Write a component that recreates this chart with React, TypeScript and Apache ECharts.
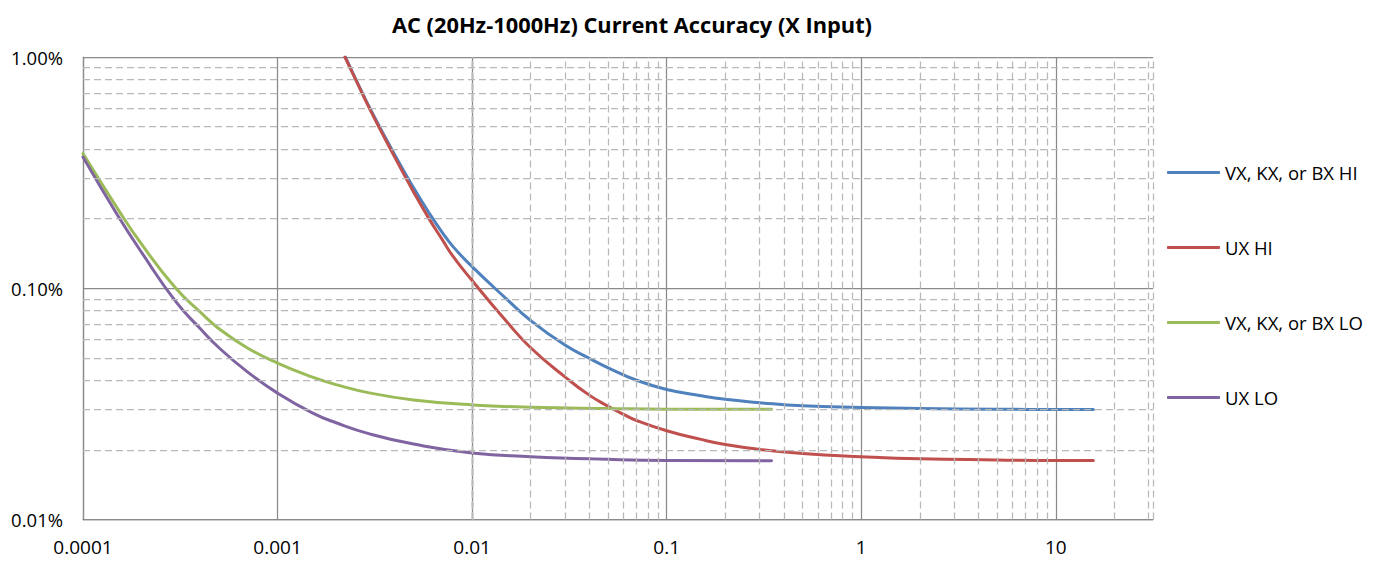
import React, { useEffect, useRef } from "react";
import * as echarts from "echarts";

// ---------- data ----------
const chartTitle = "AC (20Hz-1000Hz) Current Accuracy (X Input)";
const seriesNames = ["VX, KX, or BX HI", "UX HI", "VX, KX, or BX LO", "UX LO"];
const seriesColors = ["#4F81BD", "#C0504D", "#9BBB59", "#8064A2"];

// values in percent
const blueX = [0.00223, 0.0025, 0.003, 0.004, 0.005, 0.006, 0.007, 0.008, 0.01, 0.015, 0.02, 0.03, 0.04, 0.05, 0.07, 0.1, 0.15, 0.2, 0.3, 0.5, 1, 2, 5, 10, 15.6];
const blueY = [1.0, 0.815, 0.595, 0.378, 0.272, 0.212, 0.175, 0.151, 0.124, 0.09, 0.0725, 0.0568, 0.0498, 0.0453, 0.04, 0.0365, 0.0343, 0.0331, 0.032, 0.031, 0.0305, 0.0302, 0.03, 0.0299, 0.0299];

const redX = [0.00222, 0.0025, 0.003, 0.004, 0.005, 0.006, 0.007, 0.008, 0.01, 0.015, 0.02, 0.03, 0.04, 0.05, 0.06, 0.07, 0.1, 0.15, 0.2, 0.3, 0.5, 1, 2, 5, 10, 15.6];
const redY = [1.0, 0.81, 0.588, 0.369, 0.261, 0.2, 0.163, 0.137, 0.108, 0.072, 0.0553, 0.0414, 0.0345, 0.0309, 0.0285, 0.0268, 0.0242, 0.0222, 0.0211, 0.0201, 0.0193, 0.0187, 0.0183, 0.0181, 0.018, 0.018];

const greenX = [0.0001, 0.00015, 0.0002, 0.0003, 0.0004, 0.0005, 0.0007, 0.001, 0.0015, 0.002, 0.003, 0.005, 0.01, 0.02, 0.05, 0.1, 0.346];
const greenY = [0.382, 0.222, 0.155, 0.1, 0.079, 0.0668, 0.0552, 0.0475, 0.0414, 0.0383, 0.0352, 0.0329, 0.0313, 0.0306, 0.0302, 0.03, 0.03];

const purpleX = [0.0001, 0.00015, 0.0002, 0.0003, 0.0004, 0.0005, 0.0007, 0.001, 0.0015, 0.002, 0.003, 0.005, 0.01, 0.02, 0.05, 0.1, 0.346];
const purpleY = [0.369, 0.208, 0.143, 0.0875, 0.067, 0.0553, 0.0435, 0.0352, 0.029, 0.0262, 0.0234, 0.0212, 0.0194, 0.0187, 0.0182, 0.018, 0.01795];

const xTickLabels = ["0.0001", "0.001", "0.01", "0.1", "1", "10"];
const xTickExponents = [-4, -3, -2, -1, 0, 1];
const yTickLabels = ["0.01%", "0.10%", "1.00%"];
const yTickExponents = [-2, -1, 0];

const xMin = 0.0001;
const xMax = 31.6;
const yMin = 0.01;
const yMax = 1;

const minorMultipliers = [2, 3, 4, 5, 6, 7, 8, 9];
const xDecades = [0.0001, 0.001, 0.01, 0.1, 1, 10];
const yDecades = [0.01, 0.1];

// ---------- helpers ----------
const FONT = "'Open Sans', sans-serif";
const MAJOR = "#8A8A8A";
const MINOR = "#B9B9B9";

function minorValues(decades: number[], max: number): number[] {
  const out: number[] = [];
  decades.forEach((d) => minorMultipliers.forEach((m) => {
    const v = d * m;
    if (v < max) out.push(v);
  }));
  return out;
}

function decadeLabel(v: number, exps: number[], labels: string[]): string {
  const e = Math.log10(v);
  const r = Math.round(e);
  if (Math.abs(e - r) > 1e-6) return "";
  const i = exps.indexOf(r);
  return i >= 0 ? labels[i] : "";
}

const curves = [
  { x: blueX, y: blueY },
  { x: redX, y: redY },
  { x: greenX, y: greenY },
  { x: purpleX, y: purpleY },
];

function buildOption() {
  const xMinor = minorValues(xDecades, xMax);
  const yMinor = minorValues(yDecades, yMax);
  return {
    animation: false,
    backgroundColor: "#ffffff",
    title: {
      text: chartTitle,
      left: 632,
      top: 13,
      textAlign: "center",
      padding: 0,
      textStyle: { fontFamily: FONT, fontSize: 21.8, fontWeight: "bold", color: "#000", lineHeight: 22 },
    },
    legend: {
      orient: "vertical",
      left: 1167,
      top: 163,
      padding: 0,
      itemWidth: 53,
      itemHeight: 3,
      itemGap: 56,
      icon: "roundRect",
      selectedMode: false,
      data: seriesNames,
      textStyle: { fontFamily: FONT, fontSize: 18.5, color: "#000", lineHeight: 19 },
    },
    grid: { left: 83, top: 57, width: 1070, height: 462.5, containLabel: false, outerBoundsMode: "none" },
    xAxis: {
      type: "log",
      logBase: 10,
      min: xMin,
      max: xMax,
      axisLine: { show: true, lineStyle: { color: MAJOR, width: 1.25 } },
      axisTick: { show: false },
      axisLabel: {
        margin: 18,
        fontFamily: FONT,
        fontSize: 19,
        lineHeight: 19,
        color: "#000",
        formatter: (v: number) => decadeLabel(v, xTickExponents, xTickLabels),
      },
      splitLine: { show: true, showMaxLine: false, lineStyle: { color: MAJOR, width: 1.25 } },
    },
    yAxis: {
      type: "log",
      logBase: 10,
      min: yMin,
      max: yMax,
      axisLine: { show: true, lineStyle: { color: MAJOR, width: 1.25 } },
      axisTick: { show: false },
      axisLabel: {
        margin: 20,
        fontFamily: FONT,
        fontSize: 18.5,
        color: "#000",
        formatter: (v: number) => decadeLabel(v, yTickExponents, yTickLabels),
      },
      splitLine: { show: true, lineStyle: { color: MAJOR, width: 1.25 } },
    },
    series: [
      {
        type: "line",
        name: "__grid",
        data: [[1, 0.1]],
        symbol: "none",
        lineStyle: { opacity: 0 },
        silent: true,
        z: 1,
        markLine: {
          silent: true,
          symbol: ["none", "none"],
          label: { show: false },
          animation: false,
          lineStyle: { color: MINOR, type: [7, 4], width: 1.25 },
          emphasis: { disabled: true },
          data: [
            ...xMinor.map((v) => ({ xAxis: v })),
            { xAxis: xMax },
            ...yMinor.map((v) => ({ yAxis: v })),
          ],
        },
      },
      ...curves.map((c, i) => ({
        type: "line",
        name: seriesNames[i],
        data: c.x.map((x, j) => [x, c.y[j]]),
        smooth: 0.5,
        symbol: "none",
        clip: true,
        silent: true,
        z: 3,
        lineStyle: { color: seriesColors[i], width: 3, cap: "round", join: "round" },
        itemStyle: { color: seriesColors[i] },
      })),
    ],
  };
}

export default function App() {
  const ref = useRef<HTMLDivElement>(null);
  useEffect(() => {
    document.body.style.margin = "0";
    const chart = echarts.init(ref.current as HTMLDivElement, null, { renderer: "svg" });
    chart.setOption(buildOption() as any);
    return () => chart.dispose();
  }, []);
  return <div ref={ref} style={{ width: 1383, height: 563 }} />;
}
